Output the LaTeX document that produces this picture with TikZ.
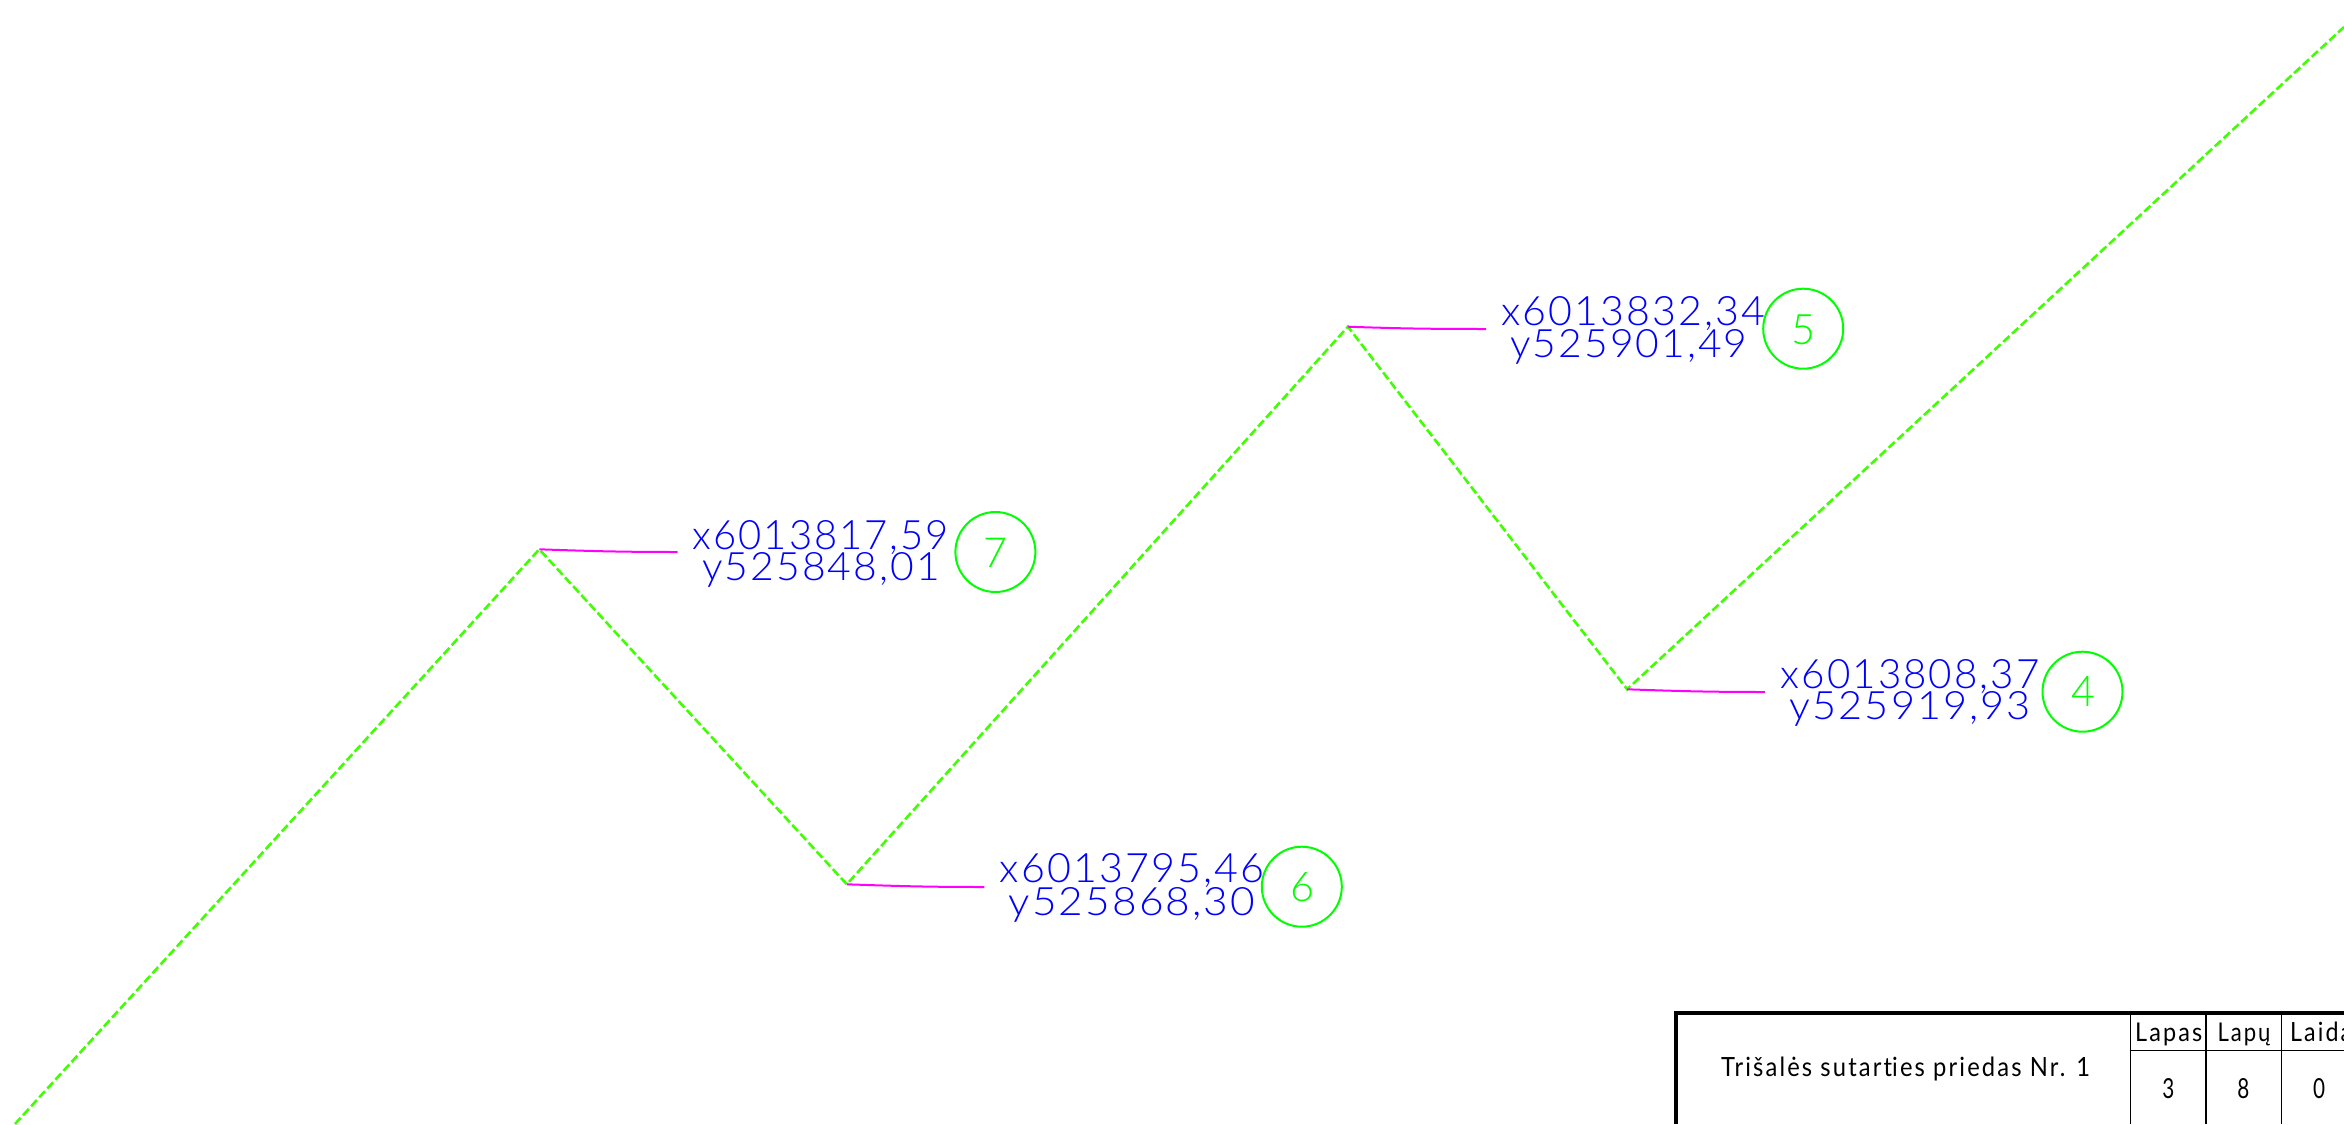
\documentclass[tikz,border=0pt]{standalone}
\usepackage{fontspec}
\usepackage{graphicx}
\newfontfamily\cadfont[LetterSpace=5]{Lato Light}
\newfontfamily\cadplain{Lato Light}
\newfontfamily\tblfont[LetterSpace=9]{Lato}
\newfontfamily\tblplain{Lato}
\definecolor{limeline}{HTML}{40FF00}
\definecolor{cadgreen}{HTML}{00FF00}
\definecolor{cadblue}{HTML}{0000FF}
\definecolor{cadmag}{HTML}{FF00FF}
\newcommand{\cadt}[3]{\resizebox{#1pt}{#2pt}{\fontsize{30}{30}\cadfont #3}}
\newcommand{\cadd}[3]{\resizebox{#1pt}{#2pt}{\fontsize{30}{30}\cadplain #3}}
\newcommand{\tblt}[3]{\resizebox{#1pt}{#2pt}{\fontsize{30}{30}\tblfont #3}}
\newcommand{\tbld}[3]{\resizebox{#1pt}{#2pt}{\fontsize{30}{30}\tblplain #3}}
\tikzset{
  x=1pt,y=-1pt,
  boundary/.style={draw=limeline,line width=2.6pt,dash pattern=on 8.5pt off 3.5pt},
  leader/.style={draw=cadmag,line width=2pt},
  coordtext/.style={text=cadblue,anchor=base west,inner sep=0pt,outer sep=0pt},
  marktext/.style={text=cadgreen,anchor=base west,inner sep=0pt,outer sep=0pt},
  markring/.style={circle,draw=cadgreen,line width=2pt,minimum size=80pt,inner sep=0pt,outer sep=0pt},
  tabletext/.style={text=black,anchor=base west,inner sep=0pt,outer sep=0pt},
  framethick/.style={draw=black,line width=3.6pt},
  framethin/.style={draw=black,line width=1.5pt},
}
\begin{document}
\begin{tikzpicture}
\useasboundingbox (0,0) rectangle (2344,1124);
\clip (0,0) rectangle (2344,1124);
% boundary vertices
\coordinate (a) at (15,1124);
\coordinate (p7) at (539.3,549.3);
\coordinate (p6) at (846.8,884.3);
\coordinate (p5) at (1347.9,326.7);
\coordinate (p4) at (1627.1,689.3);
\coordinate (b) at (2344,27);
\draw[boundary] (a) -- (p7) -- (p6) -- (p5) -- (p4) -- (b);
% leaders
\coordinate (l7) at (677.5,552);
\coordinate (l6) at (984.3,887);
\coordinate (l5) at (1486,329);
\coordinate (l4) at (1765,692);
\draw[leader] (p7) to[out=-2,in=180] (l7);
\draw[leader] (p6) to[out=-2,in=180] (l6);
\draw[leader] (p5) to[out=-2,in=180] (l5);
\draw[leader] (p4) to[out=-2,in=180] (l4);
% coordinate labels
\node[coordtext] (x7) at (692.9,549) {\cadt{256}{29}{x6013817,59}};
\node[coordtext] (y7) at (702.2,580) {\cadt{237.5}{28}{y525848,01}};
\node[coordtext] (x5) at (1501.6,325.7) {\cadt{263.5}{29}{x6013832,34}};
\node[coordtext] (y5) at (1510.4,357.3) {\cadt{237}{28}{y525901,49}};
\node[coordtext] (x6) at (999.9,882.7) {\cadt{264}{29}{x6013795,46}};
\node[coordtext] (y6) at (1008.7,915) {\cadt{246.5}{28}{y525868,30}};
\node[coordtext] (x4) at (1780.9,688.3) {\cadt{258.5}{29}{x6013808,37}};
\node[coordtext] (y4) at (1789.8,719.3) {\cadt{241}{28}{y525919,93}};
% point marks
\node[markring] (c7) at (995.4,552) {};
\node[markring] (c5) at (1803.2,328.7) {};
\node[markring] (c6) at (1301.8,886.7) {};
\node[markring] (c4) at (2082.5,691.7) {};
\node[marktext] (n7) at (983.4,567) {\cadd{24}{29.3}{7}};
\node[marktext] (n5) at (1791,344) {\cadd{24}{29.7}{5}};
\node[marktext] (n6) at (1290,901) {\cadd{24}{29}{6}};
\node[marktext] (n4) at (2071,706.7) {\cadd{24}{30}{4}};
% title block
\draw[framethick] (2344,1012.7) -- (1676,1012.7) -- (1676,1124);
\draw[framethin] (2130.3,1012.7) -- (2130.3,1124);
\draw[framethin] (2205.8,1012.7) -- (2205.8,1124);
\draw[framethin] (2281.4,1012.7) -- (2281.4,1124);
\draw[framethin] (2130.3,1050.4) -- (2344,1050.4);
\node[tabletext] (title) at (1721,1076.7) {\tblt{369}{19.5}{Trišalės sutart\kern0pt ies priedas Nr. 1}};
\node[tabletext] (h1) at (2135.2,1041.7) {\tblt{67}{18.5}{Lapas}};
\node[tabletext] (h2) at (2217.5,1041.7) {\tblt{53}{18.5}{Lapų}};
\node[tabletext] (h3) at (2290.2,1041.7) {\tblt{62}{19.5}{Laida}};
\node[tabletext] (v1) at (2162.3,1098.3) {\tbld{12}{20}{3}};
\node[tabletext] (v2) at (2237.3,1098.3) {\tbld{12}{20}{8}};
\node[tabletext] (v3) at (2313,1098.3) {\tbld{12}{20}{0}};
\end{tikzpicture}
\end{document}
